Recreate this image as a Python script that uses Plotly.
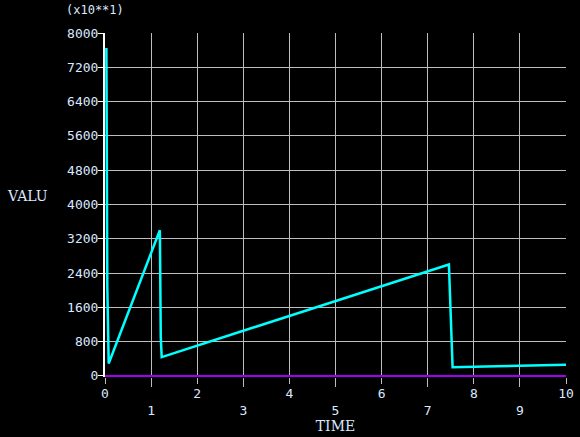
import plotly.graph_objects as go

# cyan series (time, value)
time_vals = [0.03, 0.04, 0.05, 0.08, 1.19, 1.21, 1.23, 7.46, 7.48, 7.52, 7.54, 8.5, 9.5, 10.0]
value_vals = [7650, 5800, 2100, 290, 3400, 900, 440, 2600, 1900, 800, 205, 225, 245, 258]

# purple baseline series
base_time = [0.0, 10.0]
base_vals = [0, 0]

x_ticks = [0, 1, 2, 3, 4, 5, 6, 7, 8, 9, 10]
x_labels = ["0", "<br>1", "2", "<br>3", "4", "<br>5", "6", "<br>7", "8", "<br>9", "10"]
y_ticks = [0, 800, 1600, 2400, 3200, 4000, 4800, 5600, 6400, 7200, 8000]
y_labels = [str(v) for v in y_ticks]

fig = go.Figure()
fig.add_trace(go.Scatter(x=base_time, y=base_vals, mode="lines",
                         line=dict(color="#a000f0", width=2), hoverinfo="skip"))
fig.add_trace(go.Scatter(x=time_vals, y=value_vals, mode="lines",
                         line=dict(color="#00ffff", width=2.5), hoverinfo="skip"))

tick_font = dict(family="DejaVu Sans Mono", size=13, color="#dce8ff")
label_font = dict(family="DejaVu Serif", size=14, color="#dce8ff")

fig.update_layout(
    width=580, height=437,
    paper_bgcolor="black", plot_bgcolor="black",
    margin=dict(l=105, r=14, t=33, b=60, autoexpand=False),
    showlegend=False,
    xaxis=dict(
        automargin=False,
        range=[0, 10], tickvals=x_ticks, ticktext=x_labels,
        showgrid=True, gridcolor="#bdbdbd", gridwidth=1,
        zeroline=False, showline=False,
        ticks="outside", ticklen=6, tickcolor="#bdbdbd", tickwidth=1,
        minor=dict(tickvals=[1, 3, 5, 7, 9], ticks="outside", ticklen=9,
                   tickcolor="#bdbdbd", tickwidth=1, showgrid=False),
        ticklabelstandoff=-2,
        tickfont=tick_font,
        title=dict(text="TIME", font=label_font, standoff=4),
    ),
    yaxis=dict(
        automargin=False,
        range=[-25, 8000], tickvals=y_ticks, ticktext=y_labels,
        showgrid=True, gridcolor="#bdbdbd", gridwidth=1,
        zeroline=False, showline=True, linecolor="white", linewidth=2,
        ticks="outside", ticklen=5, tickcolor="white", tickwidth=1,
        ticklabelstandoff=-3,
        tickfont=tick_font,
    ),
    annotations=[
        dict(text="VALU", xref="paper", yref="paper", x=-0.169, y=0.526,
             xanchor="center", yanchor="middle", showarrow=False,
             font=label_font),
        dict(text="(x10**1)", xref="paper", yref="paper", x=-0.022, y=1.067,
             xanchor="center", yanchor="middle", showarrow=False,
             font=dict(family="DejaVu Sans Mono", size=12, color="#dce8ff")),
    ],
)

# remove the default page margin so the figure fills the 580x437 window
fig.write_html("out.html", config={"displayModeBar": False},
               post_script="document.body.style.margin='0';document.body.style.overflow='hidden';")
